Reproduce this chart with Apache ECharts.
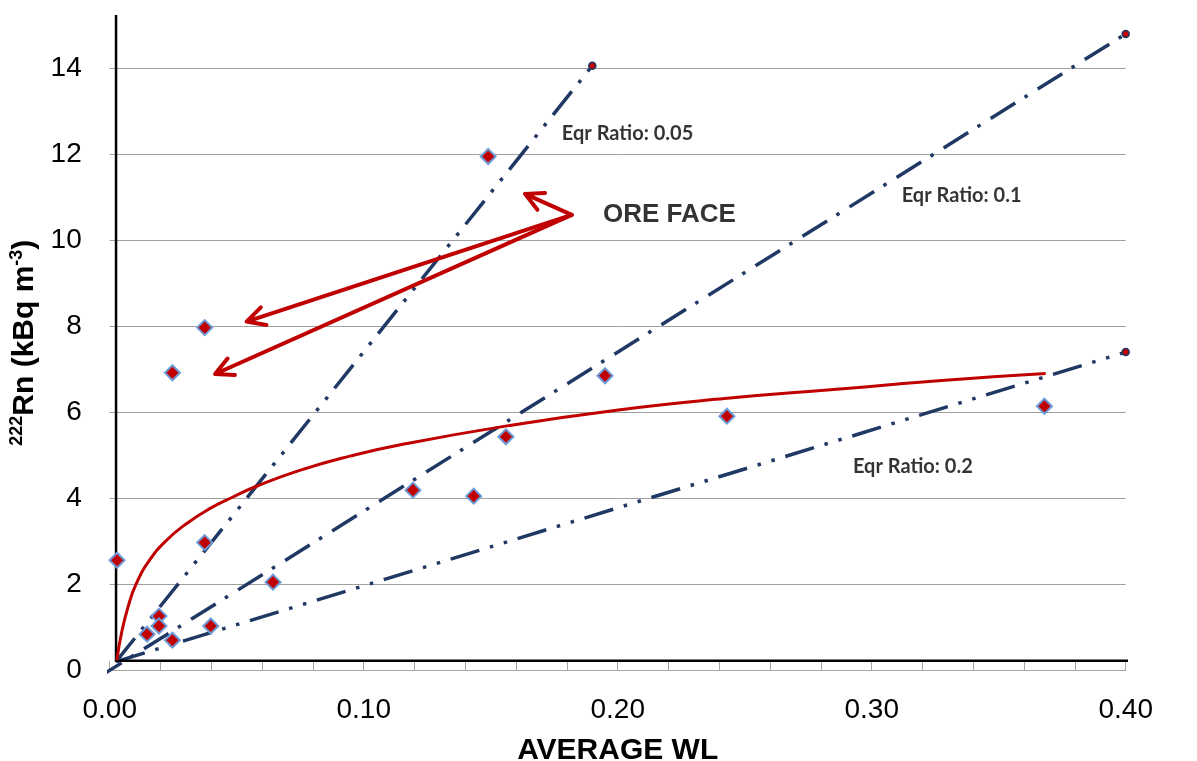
<!DOCTYPE html>
<html><head><meta charset="utf-8">
<script src="https://cdn.jsdelivr.net/npm/echarts@6/dist/echarts.min.js"></script>
<style>html,body{margin:0;padding:0;background:#fff}#c{width:1197px;height:761px}</style>
</head><body><div id="c"></div>
<script>
// Measured data points (average WL, 222Rn kBq/m3)
const wl = [0.0029, 0.0147, 0.0194, 0.0194, 0.0247, 0.0398, 0.0374, 0.0247, 0.0374, 0.0643, 0.1194, 0.1433, 0.149, 0.156, 0.195, 0.243, 0.368];
const rn = [2.56, 0.84, 1.26, 1.03, 0.70, 1.03, 2.97, 6.92, 7.97, 2.05, 4.19, 4.05, 11.95, 5.43, 6.85, 5.91, 6.14];
// Red trend curve
const trendWL = [0.0028, 0.0046, 0.0072, 0.0105, 0.0157, 0.0223, 0.0302, 0.0394, 0.0485, 0.0578, 0.0748, 0.0945, 0.114, 0.157, 0.1995, 0.242, 0.285, 0.3276, 0.3685];
const trendRn = [0.23, 0.85, 1.47, 2.02, 2.56, 3.02, 3.41, 3.76, 4.03, 4.28, 4.65, 4.98, 5.24, 5.69, 6.05, 6.32, 6.53, 6.74, 6.90];
// Equilibrium ratio reference lines (start, end)
const ratio05WL = [0.0025, 0.19];  const ratio05Rn = [0.2, 14.06];
const ratio10WL = [-0.005, 0.40];  const ratio10Rn = [-0.185, 14.8];
const ratio20WL = [0.0025, 0.40];  const ratio20Rn = [0.2, 7.4];
// Axis ranges / ticks
const xMin = 0, xMax = 0.4, xStep = 0.1;
const yMin = 0, yMax = 15.24, yStep = 2;
// Black axis frame (crossing point)
const frameWL = [0.0025, 0.0025, 0.428];
const frameRn = [15.24, 0.22, 0.22];
// Arrows (ORE FACE callout)
const arrowTail = [0.1819, 10.59];
const arrowHeads = [[0.1635, 11.08], [0.0539, 8.11], [0.0415, 6.89]];
const arrowWingsA = [[0.1684, 10.71], [0.0617, 8.03], [0.0493, 6.87]];
const arrowWingsB = [[0.1714, 11.10], [0.0595, 8.44], [0.0464, 7.25]];
// Annotations
const noteText = ['Eqr Ratio: 0.05', 'Eqr Ratio: 0.1', 'Eqr Ratio: 0.2'];
const noteWL = [0.178, 0.3118, 0.2926];
const noteRn = [12.49, 11.05, 4.73];
const calloutText = 'ORE FACE';
const calloutWL = 0.1942, calloutRn = 10.59;

const NAVY = '#1F3864', RED = '#C00000';
const chart = echarts.init(document.getElementById('c'), null, {renderer: 'canvas'});

function ratioSeries(X, Y, dash, clip) {
  return {
    type: 'line', clip: clip, z: 3,
    data: X.map((x, i) => ({value: [x, Y[i]], symbolSize: i === X.length - 1 ? 7 : 0})),
    symbol: 'circle', showSymbol: true,
    itemStyle: {color: RED, borderColor: NAVY, borderWidth: 1.5},
    lineStyle: {color: NAVY, width: 3.5, type: dash, cap: 'butt'},
    silent: true
  };
}
const dashDotDot = [30, 11, 3.5, 11, 3.5, 11];
const dashDot = [29, 11, 3.5, 12];

const arrowSeries = arrowHeads.map((h, i) => ({
  type: 'line', z: 6, symbol: 'none', silent: true,
  data: [arrowTail, h, arrowWingsA[i], h, arrowWingsB[i]],
  lineStyle: {color: RED, width: 4, cap: 'round', join: 'round'}
}));

const option = {
  animation: false,
  backgroundColor: '#fff',
  grid: {left: 109.7, right: 71.3, top: 15, bottom: 90.7, containLabel: false, outerBoundsMode: 'none'},
  xAxis: {
    type: 'value', min: xMin, max: xMax, interval: xStep,
    name: 'AVERAGE WL', nameLocation: 'middle', nameGap: 65,
    nameTextStyle: {fontFamily: 'Liberation Sans', fontWeight: 'bold', fontSize: 30, color: '#000', lineHeight: 30},
    axisLine: {show: true, lineStyle: {color: '#A6A6A6', width: 1}},
    axisTick: {show: true, inside: true, length: 9, lineStyle: {color: '#A6A6A6'}},
    minorTick: {show: true, splitNumber: 5, length: 9, lineStyle: {color: '#A6A6A6'}},
    splitLine: {show: false},
    axisLabel: {fontFamily: 'Liberation Sans', fontSize: 28, color: '#000', margin: 26,
      formatter: v => v.toFixed(2)}
  },
  yAxis: {
    type: 'value', min: yMin, max: yMax, interval: yStep,
    name: '{s|222}{t|Rn (kBq m}{s|-3}{t|)}', nameLocation: 'middle', nameGap: 61,
    nameTextStyle: {fontFamily: 'Liberation Sans', fontWeight: 'bold', fontSize: 30, color: '#000',
      rich: {
        t: {fontFamily: 'Liberation Sans', fontWeight: 'bold', fontSize: 30, color: '#000', lineHeight: 34},
        s: {fontFamily: 'Liberation Sans', fontWeight: 'bold', fontSize: 18, color: '#000', lineHeight: 18, verticalAlign: 'top'}
      }},
    axisLine: {show: false}, axisTick: {show: false},
    splitLine: {show: true, showMaxLine: false, lineStyle: {color: '#A0A0A0', width: 1}},
    axisLabel: {fontFamily: 'Liberation Sans', fontSize: 28, color: '#000', margin: 28, showMaxLabel: false}
  },
  series: [
    {type: 'line', clip: false, z: 4, symbol: 'none', silent: true,
      data: frameWL.map((x, i) => [x, frameRn[i]]),
      lineStyle: {color: '#000', width: 2.5, cap: 'butt', join: 'miter'}},
    ratioSeries(ratio05WL, ratio05Rn, dashDotDot, true),
    ratioSeries(ratio10WL, ratio10Rn, dashDot, false),
    ratioSeries(ratio20WL, ratio20Rn, dashDotDot, true),
    {type: 'line', z: 5, symbol: 'none', silent: true, smooth: 0.5,
      data: trendWL.map((x, i) => [x, trendRn[i]]),
      lineStyle: {color: RED, width: 3}},
    ...arrowSeries,
    {type: 'scatter', z: 8, symbol: 'diamond', symbolSize: 15, silent: true,
      data: wl.map((x, i) => [x, rn[i]]),
      itemStyle: {color: RED, borderColor: '#6C9BD8', borderWidth: 2, opacity: 1}},
    {type: 'scatter', z: 9, symbolSize: 0, silent: true,
      data: noteText.map((t, i) => ({name: t, value: [noteWL[i], noteRn[i]]})),
      label: {show: true, position: 'right', distance: 0, formatter: '{b}',
        fontFamily: 'Lato', fontWeight: 'bold', fontSize: 20, color: '#000'}},
    {type: 'scatter', z: 9, symbolSize: 0, silent: true,
      data: [{name: calloutText, value: [calloutWL, calloutRn]}],
      label: {show: true, position: 'right', distance: 0, formatter: '{b}',
        fontFamily: 'Liberation Sans', fontWeight: 'bold', fontSize: 26, color: '#000'}}
  ]
};
chart.setOption(option);
</script>
</body></html>
